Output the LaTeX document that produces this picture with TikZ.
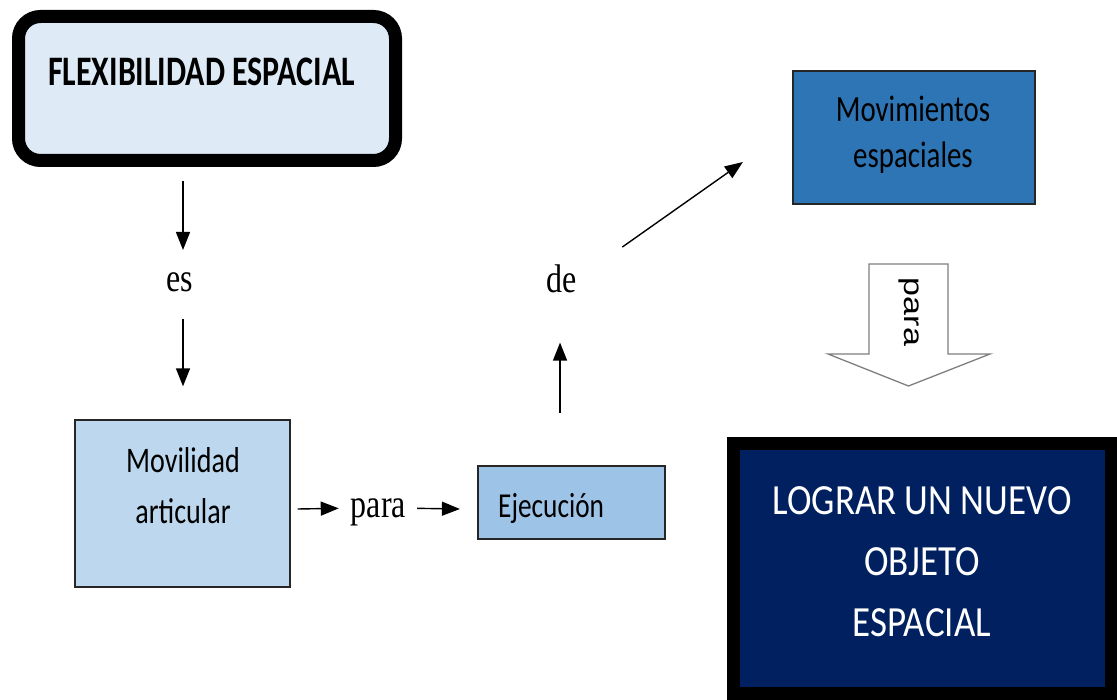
\documentclass[tikz,border=0pt]{standalone}
\usepackage{fontspec}
\setmainfont{Liberation Serif}
\newfontfamily\cali[FakeStretch=0.78]{Carlito}
\newfontfamily\calw[FakeStretch=0.86]{Carlito}
\newfontfamily\calb[FakeStretch=0.76]{Carlito}
\newfontfamily\serifc[FakeStretch=0.8]{Liberation Serif}
\newfontfamily\arialf{Liberation Sans}
\usetikzlibrary{arrows.meta}
\definecolor{flexfill}{HTML}{DEEBF7}
\definecolor{movfill}{HTML}{BDD7EE}
\definecolor{ejefill}{HTML}{9DC3E6}
\definecolor{mvsfill}{HTML}{2E75B6}
\definecolor{navy}{HTML}{002060}
\definecolor{bordergray}{HTML}{7F7F7F}
\tikzset{
  arr/.style={-{Triangle[length=18pt,width=14pt]}, line width=1.4pt},
  lbl/.style={font=\serifc\fontsize{40}{44}\selectfont, inner sep=0pt},
  box/.style={draw=black!85, line width=1.2pt, inner sep=0pt},
  thickbox/.style={draw=black, line width=13pt, inner sep=0pt},
  boxtext/.style={inner sep=0pt, align=center},
}
\begin{document}
\begin{tikzpicture}[x=1pt,y=-1pt]
\useasboundingbox (0,0) rectangle (1117,700);

% main boxes
\node[thickbox, rounded corners=22pt, fill=flexfill, minimum width=377pt, minimum height=144pt] (flex) at (207,88.5) {};
\node[inner sep=0pt, anchor=base west, font=\calb\bfseries\fontsize{42}{44}\selectfont] (flext) at (48,86) {FLEXIBILIDAD ESPACIAL};

\node[box, fill=movfill, minimum width=215pt, minimum height=167pt] (mov) at (182.5,503.5) {};
\node[boxtext, font=\cali\fontsize{36}{51}\selectfont] (movt) at (183,486) {Movilidad\\articular};

\node[box, fill=ejefill, minimum width=187pt, minimum height=73pt] (eje) at (571.5,502.5) {};
\node[inner sep=0pt, anchor=base west, font=\cali\fontsize{35}{36}\selectfont] (ejet) at (498,517) {Ejecución};

\node[box, fill=mvsfill, minimum width=242pt, minimum height=133pt] (mvs) at (914,137.5) {};
\node[boxtext, font=\cali\fontsize{37}{46}\selectfont] (mvst) at (913,135) {Movimientos\\espaciales};

\node[thickbox, fill=navy, minimum width=378pt, minimum height=249pt] (lograr) at (922,568.5) {};
\node[boxtext, text=white, font=\calw\fontsize{43}{61}\selectfont] (logrart) at (922,562) {LOGRAR UN NUEVO\\OBJETO\\ESPACIAL};

% linking words
\node[lbl, anchor=base] (es) at (180,292) {es};
\node[lbl, anchor=base] (para) at (378.5,517) {para};
\node[lbl, anchor=base] (de) at (562,293) {de};

% connectors
\draw[arr] ([shift={(-24,14)}]flex.south) -- ([shift={(3,-23)}]es.north);
\draw[arr] ([shift={(3,26)}]es.south) -- ([shift={(0.5,-33)}]mov.north);
\draw[arr] ([shift={(7,5.5)}]mov.east) -- ([shift={(-12,-3.5)}]para.west);
\draw[arr] ([shift={(11,-3.5)}]para.east) -- ([shift={(-17.5,6.5)}]eje.west);
\draw[arr] ([shift={(-11.5,-52.5)}]eje.north) -- ([shift={(-2,49)}]de.south);
\draw[arr] ([shift={(45,-18)}]de.north east) -- ([shift={(-49.5,24.5)}]mvs.west);

% block arrow "para"
\draw[draw=bordergray, fill=white, line width=1.3pt]
  (869,264) -- (948,264) -- (948,354) -- (990,354) -- (908.5,386) -- (828,354) -- (869,354) -- cycle;
\node[inner sep=0pt, rotate=-90, font=\arialf\fontsize{34}{36}\selectfont] (paraarrow) at (909,312) {\scalebox{1}[0.8]{para}};
\end{tikzpicture}
\end{document}
